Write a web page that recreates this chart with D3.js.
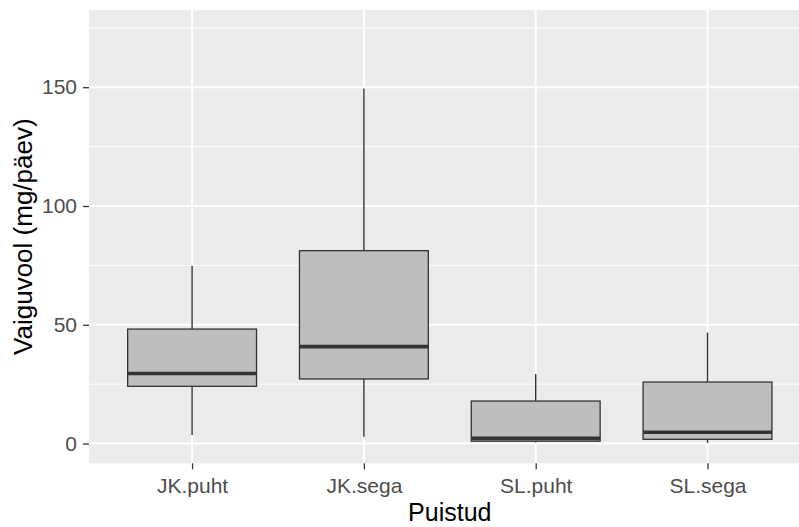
<!DOCTYPE html>
<html>
<head>
<meta charset="utf-8">
<script src="https://cdn.jsdelivr.net/npm/d3@7"></script>
<style>
  body { margin: 0; background: #fff; }
  svg { display: block; font-family: "Liberation Sans", Arial, sans-serif; }
</style>
</head>
<body>
<svg id="chart"></svg>
<script>
// boxplot stats
const categories = ['JK.puht', 'JK.sega', 'SL.puht', 'SL.sega'];
const whiskerLow = [3.6, 2.9, 0.5, 0.3];
const q1 = [24.1, 27.2, 1.0, 1.8];
const median = [29.5, 40.8, 2.2, 4.8];
const q3 = [48.2, 81.2, 17.9, 25.9];
const whiskerHigh = [74.8, 149.5, 29.3, 46.7];
const yTicks = [0, 50, 100, 150];
const yMinor = [25, 75, 125, 175];

const width = 799;
const height = 527;
const panel = { left: 89, right: 810.6, top: 10, bottom: 463.3 };

const svg = d3.select('#chart').attr('width', width).attr('height', height);

const x = d3.scalePoint()
	.domain(categories)
	.range([panel.left, panel.right])
	.padding(0.6);

const y = d3.scaleLinear()
	.domain([-8.3, 182.5])
	.range([panel.bottom, panel.top]);

const boxW = x.step() * 0.75;

const boxes = categories.map((c, i) => ({
	cat: c,
	lo: whiskerLow[i],
	q1: q1[i],
	med: median[i],
	q3: q3[i],
	hi: whiskerHigh[i]
}));

// panel background
svg.append('rect')
	.attr('x', panel.left)
	.attr('y', panel.top)
	.attr('width', panel.right - panel.left)
	.attr('height', panel.bottom - panel.top)
	.attr('fill', '#EBEBEB');

// grid
svg.append('g')
	.selectAll('line')
	.data(yMinor)
	.join('line')
	.attr('x1', panel.left)
	.attr('x2', panel.right)
	.attr('y1', (d) => y(d))
	.attr('y2', (d) => y(d))
	.attr('stroke', '#fff')
	.attr('stroke-width', 1);

svg.append('g')
	.selectAll('line')
	.data(yTicks)
	.join('line')
	.attr('x1', panel.left)
	.attr('x2', panel.right)
	.attr('y1', (d) => y(d))
	.attr('y2', (d) => y(d))
	.attr('stroke', '#fff')
	.attr('stroke-width', 2);

svg.append('g')
	.selectAll('line')
	.data(categories)
	.join('line')
	.attr('x1', (d) => x(d))
	.attr('x2', (d) => x(d))
	.attr('y1', panel.top)
	.attr('y2', panel.bottom)
	.attr('stroke', '#fff')
	.attr('stroke-width', 2);

// boxes
const g = svg.append('g')
	.selectAll('g')
	.data(boxes)
	.join('g');

g.append('line')
	.attr('x1', (d) => x(d.cat))
	.attr('x2', (d) => x(d.cat))
	.attr('y1', (d) => y(d.hi))
	.attr('y2', (d) => y(d.q3))
	.attr('stroke', '#333333')
	.attr('stroke-width', 1.4);

g.append('line')
	.attr('x1', (d) => x(d.cat))
	.attr('x2', (d) => x(d.cat))
	.attr('y1', (d) => y(d.q1))
	.attr('y2', (d) => y(d.lo))
	.attr('stroke', '#333333')
	.attr('stroke-width', 1.4);

g.append('rect')
	.attr('x', (d) => x(d.cat) - boxW / 2)
	.attr('y', (d) => y(d.q3))
	.attr('width', boxW)
	.attr('height', (d) => y(d.q1) - y(d.q3))
	.attr('fill', '#BEBEBE')
	.attr('stroke', '#333333')
	.attr('stroke-width', 1.3);

g.append('line')
	.attr('x1', (d) => x(d.cat) - boxW / 2)
	.attr('x2', (d) => x(d.cat) + boxW / 2)
	.attr('y1', (d) => y(d.med))
	.attr('y2', (d) => y(d.med))
	.attr('stroke', '#333333')
	.attr('stroke-width', 3.6);

// axes
const yAxis = svg.append('g')
	.attr('transform', `translate(${panel.left},0)`)
	.call(d3.axisLeft(y).tickValues(yTicks).tickSize(6).tickPadding(6));

const xAxis = svg.append('g')
	.attr('transform', `translate(0,${panel.bottom})`)
	.call(d3.axisBottom(x).tickSize(6).tickPadding(9));

[yAxis, xAxis].forEach((ax) => {
	ax.select('.domain').remove();
	ax.selectAll('.tick line').attr('stroke', '#333333').attr('stroke-width', 1.3);
	ax.selectAll('.tick text')
		.attr('fill', '#4D4D4D')
		.attr('font-size', 21)
		.attr('font-family', '"Liberation Sans", Arial, sans-serif');
});

svg.append('text')
	.attr('x', (panel.left + panel.right) / 2)
	.attr('y', 521)
	.attr('text-anchor', 'middle')
	.attr('font-size', 25)
	.attr('fill', '#000')
	.text('Puistud');

svg.append('text')
	.attr('transform', `translate(32,${(panel.top + panel.bottom) / 2}) rotate(-90)`)
	.attr('text-anchor', 'middle')
	.attr('font-size', 26)
	.attr('fill', '#000')
	.text('Vaiguvool (mg/päev)');
</script>
</body>
</html>
